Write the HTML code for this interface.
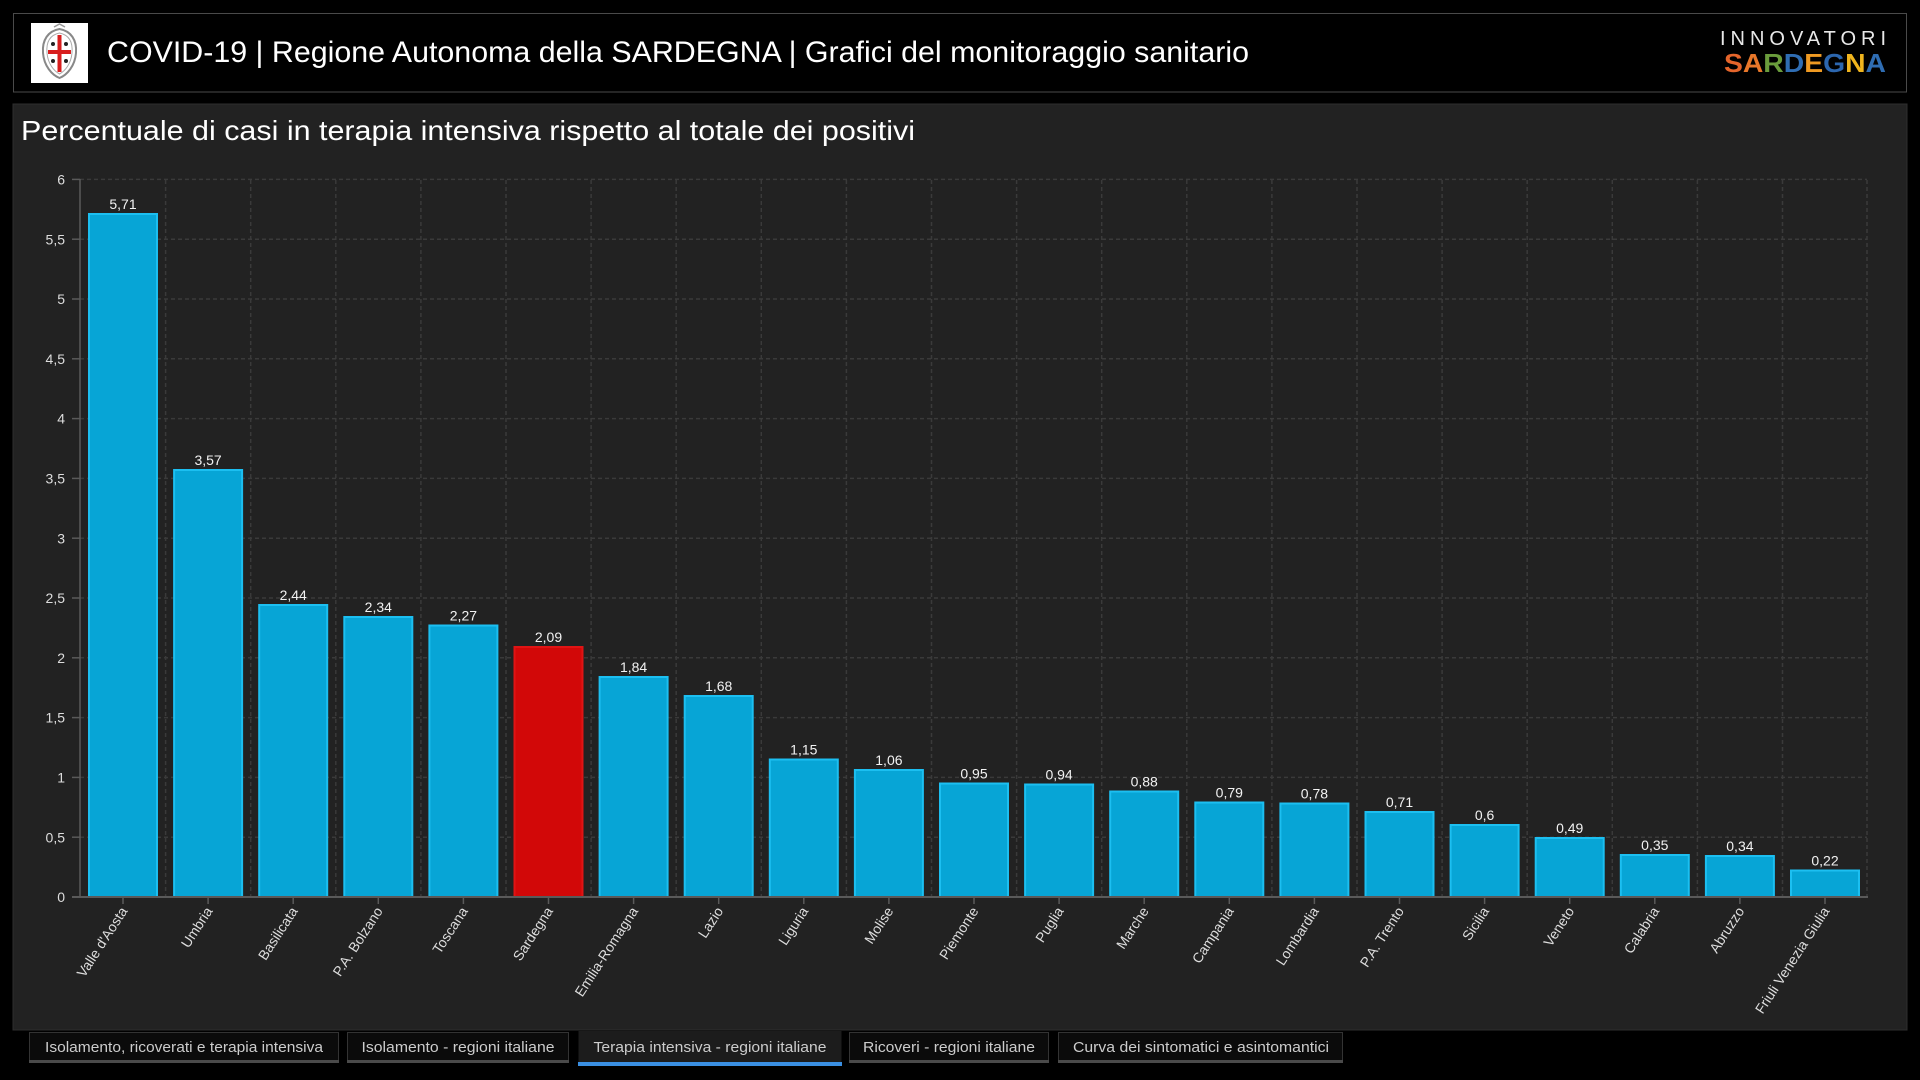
<!DOCTYPE html>
<html><head><meta charset="utf-8"><style>
html,body{margin:0;padding:0;background:#000;width:1920px;height:1080px;overflow:hidden}
svg{display:block}
text{font-family:"Liberation Sans",Arial,sans-serif}
</style></head><body>
<svg width="1920" height="1080" viewBox="0 0 1920 1080" xmlns="http://www.w3.org/2000/svg">
<rect x="0" y="0" width="1920" height="1080" fill="#000"/>
<!-- header -->
<rect x="13.5" y="13.5" width="1893" height="78.5" fill="#000" stroke="#4a4a4a" stroke-width="1"/>
<rect x="31" y="23" width="57" height="60" fill="#fff"/>
<g>
<path d="M59.5 29 C48 31 42 40 43 53 C44 66 52 75 59.5 78 C67 75 75 66 76 53 C77 40 71 31 59.5 29 Z" fill="#fff" stroke="#888" stroke-width="2"/>
<path d="M59.5 33 C50 35 46 42 47 53 C48 64 54 71 59.5 74 C65 71 71 64 72 53 C73 42 69 35 59.5 33 Z" fill="#fff" stroke="#aaa" stroke-width="1"/>
<rect x="57.5" y="35" width="4" height="37" fill="#d81e1e"/>
<rect x="48" y="50" width="23" height="4" fill="#d81e1e"/>
<circle cx="53" cy="44" r="2" fill="#222"/><circle cx="66" cy="44" r="2" fill="#222"/>
<circle cx="53" cy="61" r="2" fill="#222"/><circle cx="66" cy="61" r="2" fill="#222"/>
<path d="M54 27 L59.5 24 L65 27" fill="none" stroke="#999" stroke-width="1.5"/>
</g>
<text x="107" y="62" font-size="30" fill="#fff" textLength="1142" lengthAdjust="spacingAndGlyphs">COVID-19 | Regione Autonoma della SARDEGNA | Grafici del monitoraggio sanitario</text>
<text x="1720" y="45" font-size="20" fill="#e8e8e8" textLength="166" lengthAdjust="spacing">INNOVATORI</text>
<text x="1724" y="72" font-size="26" font-weight="bold" textLength="162" lengthAdjust="spacingAndGlyphs"><tspan fill="#e5652b">S</tspan><tspan fill="#e8772a">A</tspan><tspan fill="#6a9c3c">R</tspan><tspan fill="#2f6db3">D</tspan><tspan fill="#ef9a22">E</tspan><tspan fill="#2c66ae">G</tspan><tspan fill="#f0b51e">N</tspan><tspan fill="#2f6db3">A</tspan></text>
<!-- panel -->
<rect x="13" y="104" width="1894" height="926" fill="#222222" stroke="#2e2e2e" stroke-width="1"/>
<text x="21" y="140" font-size="28" fill="#fff" textLength="894" lengthAdjust="spacingAndGlyphs">Percentuale di casi in terapia intensiva rispetto al totale dei positivi</text>
<!-- grid horizontal -->
<g stroke="#3a3a3a" stroke-width="1.5" stroke-dasharray="4,3" fill="none">
<line x1="80" y1="179.4" x2="1867" y2="179.4"/>
<line x1="80" y1="239.2" x2="1867" y2="239.2"/>
<line x1="80" y1="299" x2="1867" y2="299"/>
<line x1="80" y1="358.8" x2="1867" y2="358.8"/>
<line x1="80" y1="418.6" x2="1867" y2="418.6"/>
<line x1="80" y1="478.4" x2="1867" y2="478.4"/>
<line x1="80" y1="538.2" x2="1867" y2="538.2"/>
<line x1="80" y1="598" x2="1867" y2="598"/>
<line x1="80" y1="657.8" x2="1867" y2="657.8"/>
<line x1="80" y1="717.6" x2="1867" y2="717.6"/>
<line x1="80" y1="777.4" x2="1867" y2="777.4"/>
<line x1="80" y1="837.2" x2="1867" y2="837.2"/>
<line x1="165.6" y1="180" x2="165.6" y2="897"/>
<line x1="250.7" y1="180" x2="250.7" y2="897"/>
<line x1="335.8" y1="180" x2="335.8" y2="897"/>
<line x1="420.9" y1="180" x2="420.9" y2="897"/>
<line x1="506" y1="180" x2="506" y2="897"/>
<line x1="591.1" y1="180" x2="591.1" y2="897"/>
<line x1="676.2" y1="180" x2="676.2" y2="897"/>
<line x1="761.3" y1="180" x2="761.3" y2="897"/>
<line x1="846.4" y1="180" x2="846.4" y2="897"/>
<line x1="931.5" y1="180" x2="931.5" y2="897"/>
<line x1="1016.6" y1="180" x2="1016.6" y2="897"/>
<line x1="1101.7" y1="180" x2="1101.7" y2="897"/>
<line x1="1186.8" y1="180" x2="1186.8" y2="897"/>
<line x1="1271.9" y1="180" x2="1271.9" y2="897"/>
<line x1="1357" y1="180" x2="1357" y2="897"/>
<line x1="1442.1" y1="180" x2="1442.1" y2="897"/>
<line x1="1527.2" y1="180" x2="1527.2" y2="897"/>
<line x1="1612.3" y1="180" x2="1612.3" y2="897"/>
<line x1="1697.4" y1="180" x2="1697.4" y2="897"/>
<line x1="1782.5" y1="180" x2="1782.5" y2="897"/>
<line x1="1867" y1="180" x2="1867" y2="897"/>
</g>
<!-- y axis -->
<g stroke="#5a5a5a" stroke-width="1.5">
<line x1="80" y1="179" x2="80" y2="897"/>
<line x1="72" y1="179.4" x2="80" y2="179.4"/>
<line x1="72" y1="239.2" x2="80" y2="239.2"/>
<line x1="72" y1="299" x2="80" y2="299"/>
<line x1="72" y1="358.8" x2="80" y2="358.8"/>
<line x1="72" y1="418.6" x2="80" y2="418.6"/>
<line x1="72" y1="478.4" x2="80" y2="478.4"/>
<line x1="72" y1="538.2" x2="80" y2="538.2"/>
<line x1="72" y1="598" x2="80" y2="598"/>
<line x1="72" y1="657.8" x2="80" y2="657.8"/>
<line x1="72" y1="717.6" x2="80" y2="717.6"/>
<line x1="72" y1="777.4" x2="80" y2="777.4"/>
<line x1="72" y1="837.2" x2="80" y2="837.2"/>
<line x1="72" y1="897" x2="80" y2="897"/>
</g>
<g font-size="14" fill="#dddddd" text-anchor="end">
<text x="65" y="184.5">6</text>
<text x="65" y="244.3">5,5</text>
<text x="65" y="304.1">5</text>
<text x="65" y="363.9">4,5</text>
<text x="65" y="423.7">4</text>
<text x="65" y="483.5">3,5</text>
<text x="65" y="543.3">3</text>
<text x="65" y="603.1">2,5</text>
<text x="65" y="662.9">2</text>
<text x="65" y="722.7">1,5</text>
<text x="65" y="782.5">1</text>
<text x="65" y="842.3">0,5</text>
<text x="65" y="902.1">0</text>
</g>
<!-- bars -->
<g fill="#07a5d6" stroke="#1cbff1" stroke-width="2">
<rect x="89" y="214" width="68" height="683"/>
<rect x="174.1" y="470" width="68" height="427"/>
<rect x="259.2" y="605" width="68" height="292"/>
<rect x="344.3" y="617" width="68" height="280"/>
<rect x="429.4" y="625.5" width="68" height="271.5"/>
<rect x="599.6" y="677" width="68" height="220"/>
<rect x="684.7" y="696" width="68" height="201"/>
<rect x="769.8" y="759.5" width="68" height="137.5"/>
<rect x="854.9" y="770" width="68" height="127"/>
<rect x="940" y="783.5" width="68" height="113.5"/>
<rect x="1025.1" y="784.5" width="68" height="112.5"/>
<rect x="1110.2" y="791.5" width="68" height="105.5"/>
<rect x="1195.3" y="802.5" width="68" height="94.5"/>
<rect x="1280.4" y="803.5" width="68" height="93.5"/>
<rect x="1365.5" y="812" width="68" height="85"/>
<rect x="1450.6" y="825" width="68" height="72"/>
<rect x="1535.7" y="838" width="68" height="59"/>
<rect x="1620.8" y="855" width="68" height="42"/>
<rect x="1705.9" y="856" width="68" height="41"/>
<rect x="1791" y="870.5" width="68" height="26.5"/>
</g>
<rect x="514.5" y="647" width="68" height="250" fill="#d20808" stroke="#e01414" stroke-width="2"/>
<!-- x axis -->
<line x1="72" y1="897" x2="1868" y2="897" stroke="#5a5a5a" stroke-width="2"/>
<g stroke="#5a5a5a" stroke-width="1.5">
<line x1="123" y1="897" x2="123" y2="904"/><line x1="208.1" y1="897" x2="208.1" y2="904"/><line x1="293.2" y1="897" x2="293.2" y2="904"/><line x1="378.3" y1="897" x2="378.3" y2="904"/><line x1="463.4" y1="897" x2="463.4" y2="904"/><line x1="548.5" y1="897" x2="548.5" y2="904"/><line x1="633.6" y1="897" x2="633.6" y2="904"/><line x1="718.7" y1="897" x2="718.7" y2="904"/><line x1="803.8" y1="897" x2="803.8" y2="904"/><line x1="888.9" y1="897" x2="888.9" y2="904"/><line x1="974" y1="897" x2="974" y2="904"/><line x1="1059.1" y1="897" x2="1059.1" y2="904"/><line x1="1144.2" y1="897" x2="1144.2" y2="904"/><line x1="1229.3" y1="897" x2="1229.3" y2="904"/><line x1="1314.4" y1="897" x2="1314.4" y2="904"/><line x1="1399.5" y1="897" x2="1399.5" y2="904"/><line x1="1484.6" y1="897" x2="1484.6" y2="904"/><line x1="1569.7" y1="897" x2="1569.7" y2="904"/><line x1="1654.8" y1="897" x2="1654.8" y2="904"/><line x1="1739.9" y1="897" x2="1739.9" y2="904"/><line x1="1825" y1="897" x2="1825" y2="904"/>
</g>
<!-- value labels -->
<g font-size="14" fill="#f2f2f2" text-anchor="middle">
<text x="123" y="209">5,71</text>
<text x="208.1" y="465">3,57</text>
<text x="293.2" y="600">2,44</text>
<text x="378.3" y="612">2,34</text>
<text x="463.4" y="620.5">2,27</text>
<text x="548.5" y="642">2,09</text>
<text x="633.6" y="672">1,84</text>
<text x="718.7" y="691">1,68</text>
<text x="803.8" y="754.5">1,15</text>
<text x="888.9" y="765">1,06</text>
<text x="974" y="778.5">0,95</text>
<text x="1059.1" y="779.5">0,94</text>
<text x="1144.2" y="786.5">0,88</text>
<text x="1229.3" y="797.5">0,79</text>
<text x="1314.4" y="798.5">0,78</text>
<text x="1399.5" y="807">0,71</text>
<text x="1484.6" y="820">0,6</text>
<text x="1569.7" y="833">0,49</text>
<text x="1654.8" y="850">0,35</text>
<text x="1739.9" y="851">0,34</text>
<text x="1825" y="865.5">0,22</text>
</g>
<!-- category labels -->
<g font-size="14" fill="#dddddd" text-anchor="end">
<text transform="translate(128,911) rotate(-57)">Valle d'Aosta</text>
<text transform="translate(213.1,911) rotate(-57)">Umbria</text>
<text transform="translate(298.2,911) rotate(-57)">Basilicata</text>
<text transform="translate(383.3,911) rotate(-57)">P.A. Bolzano</text>
<text transform="translate(468.4,911) rotate(-57)">Toscana</text>
<text transform="translate(553.5,911) rotate(-57)">Sardegna</text>
<text transform="translate(638.6,911) rotate(-57)">Emilia-Romagna</text>
<text transform="translate(723.7,911) rotate(-57)">Lazio</text>
<text transform="translate(808.8,911) rotate(-57)">Liguria</text>
<text transform="translate(893.9,911) rotate(-57)">Molise</text>
<text transform="translate(979,911) rotate(-57)">Piemonte</text>
<text transform="translate(1064.1,911) rotate(-57)">Puglia</text>
<text transform="translate(1149.2,911) rotate(-57)">Marche</text>
<text transform="translate(1234.3,911) rotate(-57)">Campania</text>
<text transform="translate(1319.4,911) rotate(-57)">Lombardia</text>
<text transform="translate(1404.5,911) rotate(-57)">P.A. Trento</text>
<text transform="translate(1489.6,911) rotate(-57)">Sicilia</text>
<text transform="translate(1574.7,911) rotate(-57)">Veneto</text>
<text transform="translate(1659.8,911) rotate(-57)">Calabria</text>
<text transform="translate(1744.9,911) rotate(-57)">Abruzzo</text>
<text transform="translate(1830,911) rotate(-57)">Friuli Venezia Giulia</text>
</g>
<!-- tabs -->
<g>
<rect x="29.5" y="1032.5" width="309" height="30" fill="#0b0b0b" stroke="#333" stroke-width="1"/>
<rect x="29" y="1060" width="310" height="3" fill="#4a4a4a"/>
<text x="184" y="1052" font-size="15" fill="#cccccc" text-anchor="middle" textLength="278" lengthAdjust="spacingAndGlyphs">Isolamento, ricoverati e terapia intensiva</text>
<rect x="347.5" y="1032.5" width="221" height="30" fill="#0b0b0b" stroke="#333" stroke-width="1"/>
<rect x="347" y="1060" width="222" height="3" fill="#4a4a4a"/>
<text x="458" y="1052" font-size="15" fill="#cccccc" text-anchor="middle" textLength="193" lengthAdjust="spacingAndGlyphs">Isolamento - regioni italiane</text>
<rect x="578.5" y="1031" width="263" height="31" fill="#1c1c1c"/>
<rect x="578" y="1062" width="264" height="4" fill="#3a8fe2"/>
<text x="710" y="1052" font-size="15" fill="#cccccc" text-anchor="middle" textLength="233" lengthAdjust="spacingAndGlyphs">Terapia intensiva - regioni italiane</text>
<rect x="849.5" y="1032.5" width="199" height="30" fill="#0b0b0b" stroke="#333" stroke-width="1"/>
<rect x="849" y="1060" width="200" height="3" fill="#4a4a4a"/>
<text x="949" y="1052" font-size="15" fill="#cccccc" text-anchor="middle" textLength="172" lengthAdjust="spacingAndGlyphs">Ricoveri - regioni italiane</text>
<rect x="1058.5" y="1032.5" width="284" height="30" fill="#0b0b0b" stroke="#333" stroke-width="1"/>
<rect x="1058" y="1060" width="285" height="3" fill="#4a4a4a"/>
<text x="1201" y="1052" font-size="15" fill="#cccccc" text-anchor="middle" textLength="256" lengthAdjust="spacingAndGlyphs">Curva dei sintomatici e asintomantici</text>
</g>
</svg>
</body></html>
